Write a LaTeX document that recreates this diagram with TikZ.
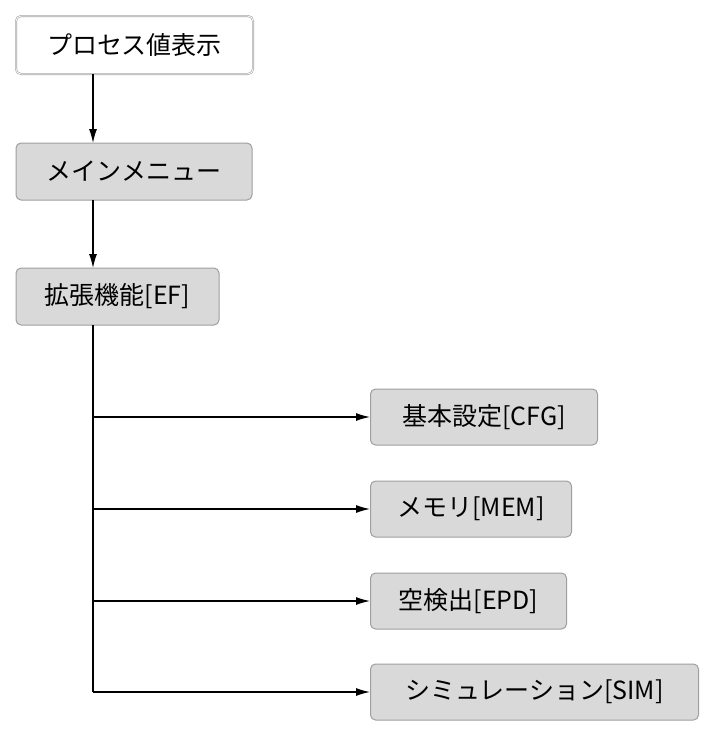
\documentclass[tikz,border=0pt]{standalone}
\usepackage{fontspec}
\setmainfont{Noto Sans CJK JP}
\begin{document}
\begin{tikzpicture}[x=1pt,y=-1pt,
  box/.style={draw=gray!75,fill=gray!30,rounded corners=5pt,line width=1pt,inner sep=0pt,font=\fontsize{25}{30}\selectfont},
  wbox/.style={box,fill=white,double=white,double distance=0.8pt,draw=gray!70,line width=0.6pt},
  arr/.style={-{Latex[length=14pt,width=8pt]},line width=1.2pt},
  ln/.style={line width=1.2pt}]
\usetikzlibrary{arrows.meta}
\useasboundingbox (0,0) rectangle (706,729);
\node[wbox,minimum width=237pt,minimum height=58pt] (a) at (134.5,45) {プロセス値表示};
\node[box,minimum width=236pt,minimum height=57pt] (b) at (134,171.5) {メインメニュー};
\node[box,minimum width=203pt,minimum height=57pt] (c) at (117.5,296.5) {拡張機能[EF]};
\node[box,minimum width=227pt,minimum height=56pt,anchor=west] (d) at (370,417) {基本設定[CFG]};
\node[box,minimum width=201pt,minimum height=56pt,anchor=west] (e) at (370,509) {メモリ[MEM]};
\node[box,minimum width=196pt,minimum height=56pt,anchor=west] (f) at (370,601) {空検出[EPD]};
\node[box,minimum width=328pt,minimum height=56pt,anchor=west] (g) at (370,692) {シミュレーション[SIM]};
\coordinate (t) at (93,325);
\coordinate (j1) at (93,417);
\coordinate (j2) at (93,509);
\coordinate (j3) at (93,601);
\coordinate (j4) at (93,692);
\draw[arr] (93,74) -- (93,143);
\draw[arr] (93,200) -- (93,268);
\draw[ln] (t) -- (j4);
\draw[arr] (j1) -- (d.west);
\draw[arr] (j2) -- (e.west);
\draw[arr] (j3) -- (f.west);
\draw[arr] (j4) -- (g.west);
\end{tikzpicture}
\end{document}
